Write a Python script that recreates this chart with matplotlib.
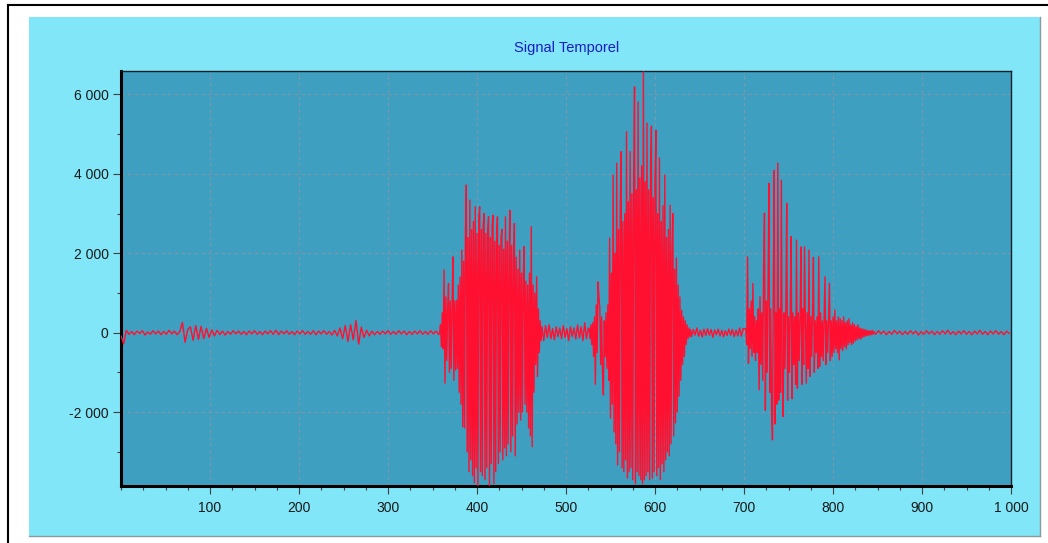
import numpy as np
import matplotlib
matplotlib.use("Agg")
import matplotlib.pyplot as plt
from matplotlib.patches import Rectangle
from matplotlib.lines import Line2D
from matplotlib.ticker import MultipleLocator, FuncFormatter

plt.rcParams['font.family'] = ['Liberation Sans', 'DejaVu Sans']

# ---- data: signal samples (segment start, step, values) ----
seg_a_start, seg_a_step = 0, 3
seg_a = [-80, -280, 60, -40, 30, -50, 40, -20, 50, -60,
         20, -40, 50, -30, 40, -50, 30, -40, 60, -30,
         40, -50, 30, 260, -240, 80, 150, -190, 180, -170,
         160, -150, 110, -120, 70, -80, 60, -50, 40, -60,
         30, -40, 50, -30, 40, -40, 30, -50, 40, -30,
         50, -40, 30, -50, 40, -30, 50, -40, 60, -50,
         40, -30, 50, -40, 30, -50, 40, -30, 50, -40,
         30, -40, 50, -50, 40, -30, 50, -40, 30, -60,
         60, -80, 120, -150, 180, -220, 200, -180, 310, -290,
         140, -120, 60, -80, 40, -50, 30, -40, 40, -30,
         50, -40, 30, -40, 50, -30, 40, -50, 30, -40,
         40, -30, 50, -40, 30, -40, 50, -30, 40, -50]

seg_b_start, seg_b_step = 358, 1
seg_b = [0, 200, -350, 500, -400,
         1580, -1270, 900, -700, 600,
         1240, -1000, 800, -900, 700,
         1910, -1200, 800, -940, 820,
         -900, 1200, -1500, 1400, -1800,
         2080, -2370, 1800, -2400, 2500,
         3720, -3000, 2400, -3500, 3340,
         -3200, 2600, -3600, 2800, -3780,
         3170, -3400, 2500, -3860, 2900,
         3170, -3500, 2600, -3600, 2700,
         3000, -3700, 2500, -3400, 2600,
         2920, -3860, 2400, -3300, 2700,
         2960, -3800, 2300, -3500, 2500,
         2920, -3300, 2200, -3000, 2400,
         2600, -3200, 2100, -2900, 2920,
         -3100, 2300, -2800, 2000, 3080,
         -3000, 2200, -2600, 1800, 2750,
         -3100, 1900, -2300, 1600, -2000,
         2080, -2200, 1500, -2000, 1400,
         2170, -1800, 1300, -2000, 1200,
         -2400, 1500, -2600, 2670, -2870,
         1200, -1500, 1000, -800, 1410,
         -1100, 600, -500, 300, -200]

seg_c_start, seg_c_step = 473, 2
seg_c = [150, -200, 180, -120, 200, -150, 100, -180, 150, -100,
         120, -150, 180, -120, 100, -200, 150, -100, 120, -160,
         200, -130, 150, -200, 250, -150, 120]

seg_d_start, seg_d_step = 526, 1
seg_d = [100, -150, 200, -300, 250,
         -600, 400, -1300, 700, -500,
         1280, 900, 600, -800, 400,
         -1000, -1570, 300, -600, 500,
         -900, 700, -1200, 2380, -2150,
         1500, -1800, 3970, -2500, 2000,
         -2800, 4270, -3330, 2600, -3000,
         3200, 4560, -3400, 2800, -3500,
         3000, -3200, 5060, -3660, 3300,
         -3500, 4560, -3400, 3500, -3700,
         3800, 6190, -3800, 3600, -3500,
         5810, -3600, 3900, -3700, 4200,
         -3800, 6570, -3700, 3800, -3600,
         5280, -3500, 3600, -3700, 4000,
         5200, -3660, 3400, -3500, 3800,
         5100, -3600, 3000, -3400, 4400,
         -3700, 2800, -3300, 3200, -3500,
         3970, -3200, 2400, -3000, 2600,
         -3100, 3210, -2800, 2000, 3000,
         -2600, 1600, -2270, 1880, -2000,
         1200, -1600, 900, -1200, 560,
         -800, 400, -600, 300, -300,
         200, -150, 120, -100, 80]

seg_e_start, seg_e_step = 641, 2
seg_e = [-100, 80, -60, 120, -90, 60, -110, 90, -70, 100,
         -60, 80, -120, 70, -50, 90, -80, 60, -100, 50,
         -70, 90, -60, 80, -100, 60, -80, 120, -90, 100]

seg_f_start, seg_f_step = 702, 1
seg_f = [100, -300, 1910, -770, 600,
         -400, 800, -600, 1240, -500,
         400, -700, 300, -500, 600,
         -1440, 906, -800, 500, -1200,
         1500, 3010, -1950, 800, -1000,
         1200, 3760, -1500, 600, -2000,
         -2700, 1400, 4090, -2300, 500,
         -1800, 4270, -1700, 600, -1500,
         3840, -1200, -2110, 500, -900,
         700, 3260, -1700, 400, -1000,
         600, 2420, -1660, 500, -800,
         400, -1300, 2330, -1400, 500,
         -700, 400, 2160, -1300, 600,
         -800, 2160, 300, -1270, 500,
         -900, 2080, -1100, 400, -600,
         500, 1900, -1000, 300, -500,
         400, -900, 1910, -850, 500,
         -600, 300, -700, 400, 1410,
         -800, 300, -500, 400, 1240,
         -700, 300, -600, 400, -500,
         570, -400, 300, -500, 400,
         -680, 350, -400, 300, -450,
         400, -350, 250, -400, 300,
         -300, 350, -250, 200, -300,
         250, -260, 200, -200, 150,
         -180, 200, -150, 120, -160,
         100, -120, 90, -100, 80,
         -80, 60, -70, 50, -60,
         40, -50, 60, -40, 30]

seg_g_start, seg_g_step = 848, 3
seg_g = [-40, 50, -30, 40, -50, 30, -40, 60, -30, 40,
         -50, 30, -40, 50, -30, 40, -60, 30, -40, 50,
         -30, 40, -50, 30, -40, 50, -30, 60, -40, 30,
         -50, 40, -30, 50, -40, 30, -50, 40, -30, 60,
         -40, 30, -50, 40, -30, 50, -40, 30, -50, 40, -20]

title_text = "Signal Temporel"
x_ticks = [100, 200, 300, 400, 500, 600, 700, 800, 900, 1000]
y_ticks = [-2000, 0, 2000, 4000, 6000]

segments = [(seg_a_start, seg_a_step, seg_a), (seg_b_start, seg_b_step, seg_b),
            (seg_c_start, seg_c_step, seg_c), (seg_d_start, seg_d_step, seg_d),
            (seg_e_start, seg_e_step, seg_e), (seg_f_start, seg_f_step, seg_f),
            (seg_g_start, seg_g_step, seg_g)]
xs, ys = [], []
for s, st, v in segments:
    xs.extend(s + st * np.arange(len(v)))
    ys.extend(v)
xs = np.array(xs, dtype=float)
ys = np.array(ys, dtype=float)

# ---- figure ----
W, H = 1048, 543
fig = plt.figure(figsize=(W / 100, H / 100), dpi=100, facecolor='white')

def fx(px):
    return px / W

def fy(py):
    return 1 - py / H

# cyan panel
panel = Rectangle((fx(29), fy(536)), fx(1040) - fx(29), fy(17) - fy(536),
                  transform=fig.transFigure, facecolor='#80e6f8', edgecolor='none', zorder=-5)
fig.patches.append(panel)
fig.lines.append(Line2D([fx(1040), fx(1040)], [fy(17), fy(536)], transform=fig.transFigure,
                        color='#8a9aa0', lw=1.0, zorder=-4))
fig.lines.append(Line2D([fx(29), fx(1040)], [fy(536), fy(536)], transform=fig.transFigure,
                        color='#8a9aa0', lw=1.0, zorder=-4))
# black outer frame (top and left)
fig.lines.append(Line2D([fx(8), 1.0], [fy(5), fy(5)], transform=fig.transFigure,
                        color='black', lw=1.5, zorder=-4))
fig.lines.append(Line2D([fx(8), fx(8)], [fy(5), 0.0], transform=fig.transFigure,
                        color='black', lw=1.5, zorder=-4))

ax = fig.add_axes([fx(121), fy(486), fx(1011) - fx(121), fy(71) - fy(486)])
ax.set_zorder(2)
ax.set_facecolor('#3f9fc0')
ax.plot(xs, ys, color='#ff1030', lw=1.0, zorder=3)
ax.set_xlim(0, 1000)
ax.set_ylim(-3860, 6590)

ax.set_xticks(x_ticks)
ax.set_yticks(y_ticks)
ax.xaxis.set_minor_locator(MultipleLocator(25))
ax.yaxis.set_minor_locator(MultipleLocator(1000))
fmt = FuncFormatter(lambda v, p: f"{int(round(v)):,}".replace(",", " "))
ax.xaxis.set_major_formatter(fmt)
ax.yaxis.set_major_formatter(fmt)
ax.tick_params(axis='both', which='major', direction='out', length=6, width=0.8,
               color='#404040', labelsize=10, labelcolor='#1a1a1a')
ax.tick_params(axis='both', which='minor', direction='out', length=3, width=0.8, color='#404040')
ax.tick_params(axis='x', pad=5)
ax.tick_params(axis='y', pad=3)

ax.grid(True, which='major', color='#7e98a8', linestyle=(0, (3, 3)), lw=0.8, zorder=1)
ax.set_axisbelow(True)

for side in ['left', 'bottom']:
    ax.spines[side].set_linewidth(2.2)
    ax.spines[side].set_color('black')
for side in ['top', 'right']:
    ax.spines[side].set_linewidth(1.0)
    ax.spines[side].set_color('#10202a')

fig.text(fx(567), fy(48), title_text, ha='center', va='center', fontsize=10.5,
         color='#1c1cc8', zorder=3)

fig.savefig('out.png', dpi=100, facecolor='white')
